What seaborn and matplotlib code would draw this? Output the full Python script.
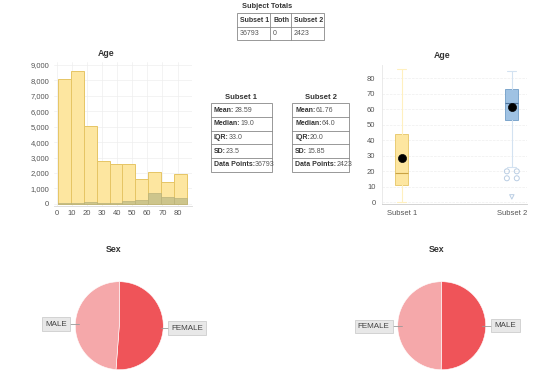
import seaborn as sns
import matplotlib.pyplot as plt
from matplotlib.patches import Rectangle
from matplotlib.ticker import FuncFormatter

W, H = 540, 391

# ---- data ----
age_edges = [1, 9.5, 18, 26.5, 35, 43.5, 52, 60.5, 69, 77.5, 86]
subset1_counts = [8100, 8600, 5050, 2800, 2550, 2550, 1600, 2050, 1450, 1950]
subset2_counts = [30, 60, 100, 90, 80, 220, 280, 680, 450, 400]

box_labels = ['Subset 1', 'Subset 2']
box_q1 = [11, 53]
box_med = [19, 64]
box_q3 = [44, 73]
box_lo = [0, 23]
box_hi = [86, 85]
box_mean = [28.59, 61.76]
subset2_fliers = [20, 15.5, 20, 15.5]
subset2_low_marker = 3.5

totals_header = ['Subset 1', 'Both', 'Subset 2']
totals_values = ['36793', '0', '2423']

stat_names = ['Mean:', 'Median:', 'IQR:', 'SD:', 'Data Points:']
stats_subset1 = ['28.59', '19.0', '33.0', '23.5', '36793']
stats_subset2 = ['61.76', '64.0', '20.0', '15.85', '2423']

sex_labels_1 = ['FEMALE', 'MALE']
sex_share_1 = [51.2, 48.8]
sex_labels_2 = ['MALE', 'FEMALE']
sex_share_2 = [50.2, 49.8]

YELLOW = '#fde6a0'
YELLOW_EDGE = '#e6c565'
OLIVE = '#cdc58c'
BLUE = '#9fc2e3'
BLUE_EDGE = '#6f9cc7'
DARK_RED = '#ef5459'
LIGHT_RED = '#f5a8aa'

sns.set_style('white')
plt.rcParams['font.family'] = ['Liberation Sans', 'DejaVu Sans']


def px_axes(fig, left, top, right, bottom, **kw):
    return fig.add_axes([left / W, 1 - bottom / H, (right - left) / W, (bottom - top) / H], **kw)


fig = plt.figure(figsize=(W / 100, H / 100), dpi=100)

# overlay for titles, tables and labels (pixel coords)
ov = px_axes(fig, 0, 0, W, H)
ov.set_xlim(0, W)
ov.set_ylim(H, 0)
ov.axis('off')
ov.set_zorder(5)
ov.patch.set_alpha(0)

# ---- histogram ----
ax1 = px_axes(fig, 54, 61.6, 191.7, 205.5)
mids = [(a + b) / 2 for a, b in zip(age_edges[:-1], age_edges[1:])]
sns.histplot(x=mids, weights=subset1_counts, bins=age_edges, color=YELLOW,
             edgecolor=YELLOW_EDGE, linewidth=0.7, alpha=1, ax=ax1)
sns.histplot(x=mids, weights=subset2_counts, bins=age_edges, color=OLIVE,
             edgecolor='#b9b27a', linewidth=0.5, alpha=1, ax=ax1)
ax1.set_xlim(-1.8, 89.4)
ax1.set_ylim(-100, 9200)
ax1.set_xticks(range(0, 90, 10))
ax1.set_yticks(range(0, 10000, 1000))
ax1.yaxis.set_major_formatter(FuncFormatter(lambda v, p: f'{int(v):,}'))
ax1.grid(True, color='#eeeeee', linewidth=0.5)
ax1.set_axisbelow(True)
ax1.set_xlabel('')
ax1.set_ylabel('')
ax1.tick_params(length=0, labelsize=5.5, labelcolor='#555555', pad=3.5)
for s in ['top', 'right', 'left']:
    ax1.spines[s].set_visible(False)
ax1.spines['bottom'].set_color('#d8d8d8')
ax1.spines['bottom'].set_linewidth(0.6)

# ---- box plot ----
ax2 = px_axes(fig, 381.7, 65, 526.7, 204)
stats = []
for i in range(2):
    stats.append(dict(label=box_labels[i], q1=box_q1[i], med=box_med[i], q3=box_q3[i],
                      whislo=box_lo[i], whishi=box_hi[i], fliers=[]))
face = [YELLOW, BLUE]
edge = [YELLOW_EDGE, BLUE_EDGE]
whisk = ['#fff0bf', '#d3e2f1']
medc = ['#c9a243', '#4d7299']
for i in range(2):
    ax2.bxp([stats[i]], positions=[i], widths=0.12, patch_artist=True, showfliers=False,
            boxprops=dict(facecolor=face[i], edgecolor=edge[i], linewidth=0.6),
            medianprops=dict(color=medc[i], linewidth=0.8),
            whiskerprops=dict(color=whisk[i], linewidth=0.8),
            capprops=dict(color=whisk[i], linewidth=0.8), capwidths=0.08)
sns.scatterplot(x=[0, 1], y=box_mean, color='black', s=34, zorder=5, ax=ax2, edgecolor='black')
sns.scatterplot(x=[0.955, 0.955, 1.045, 1.045], y=subset2_fliers, marker='o', s=13,
                facecolor='none', edgecolor='#b9cde3', linewidth=0.7, ax=ax2, zorder=4)
ax2.scatter([1.0], [subset2_low_marker], marker='v', s=10, facecolor='none',
            edgecolor='#b9cde3', linewidth=0.7, zorder=4)
ax2.set_xlim(-0.182, 1.135)
ax2.set_ylim(-1.1, 88.6)
ax2.set_xticks([0, 1])
ax2.set_xticklabels(box_labels)
ax2.set_yticks(range(0, 90, 10))
ax2.yaxis.grid(True, color='#eeeeee', linewidth=0.5, linestyle='--')
ax2.set_axisbelow(True)
ax2.tick_params(length=0, labelsize=5.5, labelcolor='#555555', pad=4.5)
for s in ['top', 'right']:
    ax2.spines[s].set_visible(False)
ax2.spines['left'].set_color('#e6e6e6')
ax2.spines['left'].set_linewidth(0.6)
ax2.spines['bottom'].set_color('#cccccc')
ax2.spines['bottom'].set_linewidth(0.6)

# ---- pies ----
def draw_pie(cx, cy, r, shares, colors):
    ax = px_axes(fig, cx - r, cy - r, cx + r, cy + r)
    ax.pie(shares, colors=colors, startangle=90, counterclock=False,
           wedgeprops=dict(edgecolor='white', linewidth=0.4))
    ax.set_xlim(-1, 1)
    ax.set_ylim(-1, 1)
    ax.set_aspect('equal')
    return ax

draw_pie(119.3, 325.7, 44, sex_share_1, [DARK_RED, LIGHT_RED])
draw_pie(441.7, 325.7, 44, sex_share_2, [DARK_RED, LIGHT_RED])


def pie_label(x, y, text, x0, x1):
    ov.plot([x0, x1], [y, y], color='#999999', linewidth=0.6)
    ov.text(x, y, text, ha='center', va='center', fontsize=5.8, color='#444444',
            bbox=dict(boxstyle='square,pad=0.4', facecolor='#e8e8e8', edgecolor='#c6c6c6', linewidth=0.5))

pie_label(56, 324, sex_labels_1[1], 68.3, 79)
pie_label(187, 328, sex_labels_1[0], 160.7, 170.7)
pie_label(373.7, 326.3, sex_labels_2[1], 390, 401.7)
pie_label(505.5, 325.7, sex_labels_2[0], 482.3, 492.7)

# ---- titles ----
title_kw = dict(ha='center', va='center', fontsize=6.3, fontweight='bold', color='#333333')
ov.text(106, 54, 'Age', **title_kw)
ov.text(441.7, 55, 'Age', **title_kw)
ov.text(114, 250, 'Sex', **title_kw)
ov.text(436.7, 250, 'Sex', **title_kw)
ov.text(267, 7, 'Subject Totals', ha='center', va='center', fontsize=5.3,
        fontweight='bold', color='#333333')

# ---- tables ----
line_kw = dict(color='#888888', linewidth=0.6)
cols = [236.7, 270, 291, 324]
rows = [13.3, 26.7, 40]
ov.add_patch(Rectangle((cols[0], rows[0]), cols[-1] - cols[0], rows[-1] - rows[0],
                       fill=False, edgecolor='#888888', linewidth=0.6))
for c in cols[1:-1]:
    ov.plot([c, c], [rows[0], rows[-1]], **line_kw)
ov.plot([cols[0], cols[-1]], [rows[1], rows[1]], **line_kw)
for i in range(3):
    ov.text(cols[i] + 3, (rows[0] + rows[1]) / 2, totals_header[i], ha='left', va='center',
            fontsize=5, fontweight='bold', color='#333333')
    ov.text(cols[i] + 3, (rows[1] + rows[2]) / 2, totals_values[i], ha='left', va='center',
            fontsize=5, color='#555555')


def stat_table(x0, x1, title, values):
    top, step = 103.3, 13.68
    ov.text((x0 + x1) / 2, 97.5, title, ha='center', va='center', fontsize=5.5,
            fontweight='bold', color='#333333')
    ov.add_patch(Rectangle((x0, top), x1 - x0, step * len(values), fill=False,
                           edgecolor='#888888', linewidth=0.6))
    for i, (name, val) in enumerate(zip(stat_names, values)):
        if i > 0:
            ov.plot([x0, x1], [top + i * step, top + i * step], **line_kw)
        t = ov.text(x0 + 3, top + (i + 0.5) * step, name, ha='left', va='center',
                    fontsize=5, fontweight='bold', color='#333333')
        ov.annotate(val, xy=(1, 0.5), xycoords=t, ha='left', va='center',
                    fontsize=5, color='#555555')

stat_table(211, 271.7, 'Subset 1', stats_subset1)
stat_table(292.3, 349.3, 'Subset 2', stats_subset2)

fig.savefig('out.png', dpi=100)
